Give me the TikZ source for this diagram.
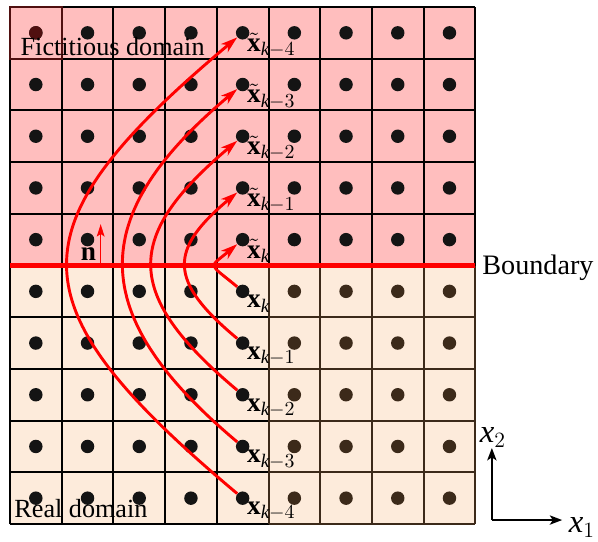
\documentclass[tikz,border=0pt]{standalone}
\usepackage{fontspec}
\setmainfont{Liberation Serif}
\usepackage{amsmath}
\usetikzlibrary{arrows.meta}

\definecolor{fictpink}{RGB}{255,190,190}
\definecolor{realpeach}{RGB}{253,235,219}
\definecolor{darkbrown}{RGB}{60,42,26}
\definecolor{darkmaroon}{RGB}{80,16,16}

\tikzset{
    pt/.style={circle, fill=black!92, inner sep=0pt, minimum size=0.26cm},
    gridline/.style={line width=1.1pt},
    mapping/.style={red, line width=1.6pt, -{Stealth[length=0.32cm, width=0.2cm, inset=0.09cm]}},
    axis/.style={line width=1pt, -{Stealth[length=0.24cm, width=0.18cm, inset=0.06cm]}},
    ptlabel/.style={inner sep=0pt, font=\fontsize{15}{17}\selectfont},
    txt/.style={inner sep=0pt, font=\fontsize{14.4}{17}\selectfont},
}

\begin{document}
\begin{tikzpicture}
    \useasboundingbox (-0.193,-0.329) rectangle (11.373,10.135);

    % Domains
    \fill[realpeach] (0,0) rectangle (9,5);
    \fill[fictpink] (0,5) rectangle (9,10);
    \draw[gridline] (0,0) grid (9,10);
    \draw[gridline, darkbrown] (5,0) grid (9,5);
    \draw[gridline, darkmaroon] (0,9) rectangle (1,10);

    % Grid points
    \foreach \i in {0,...,8}
        \foreach \j in {5,...,9}
            \node[pt] (p\i-\j) at (\i+0.5,\j+0.5) {};
    \foreach \i in {0,...,4}
        \foreach \j in {0,...,4}
            \node[pt] (p\i-\j) at (\i+0.5,\j+0.5) {};
    \foreach \i in {5,...,8}
        \foreach \j in {0,...,4}
            \node[pt, fill=darkbrown] (p\i-\j) at (\i+0.5,\j+0.5) {};
    \fill[darkmaroon] (p0-9) circle (0.13);

    % Boundary
    \coordinate (bleft) at (0,5);
    \coordinate (bright) at (9,5);
    \draw[red, line width=2.5pt] (bleft) -- (bright);
    \node[txt, anchor=base west, font=\fontsize{15.5}{18}\selectfont] (bnd) at (9.13,4.82) {Boundary};

    % Normal vector
    \coordinate (nfoot) at (1.754,5);
    \coordinate (ntip) at (1.754,5.8);
    \draw[red, line width=0.8pt, -{Stealth[length=0.24cm, width=0.15cm, inset=0.05cm]}] (nfoot) -- (ntip);
    \node[ptlabel, anchor=base] (nlbl) at (1.52,5.10) {\textbf{n}};

    % Domain names
    \node[txt, anchor=base west] (fict) at (0.2,9.07) {Fictitious domain};
    \node[txt, anchor=base west] (real) at (0.08,0.135) {Real domain};

    % Labels of real points
    \foreach \j/\s in {4/{\textit{k}}, 3/{\textit{k}-1}, 2/{\textit{k}-2}, 1/{\textit{k}-3}, 0/{\textit{k}-4}}
        \node[ptlabel, anchor=north west, xshift=0.08cm, yshift=-0.07cm] (lr\j) at (p4-\j.center)
            {$\textbf{x}_{\s}$};

    % Labels of fictitious points
    \foreach \j/\s in {5/{\textit{k}}, 6/{\textit{k}-1}, 7/{\textit{k}-2}, 8/{\textit{k}-3}, 9/{\textit{k}-4}}
        \node[ptlabel, anchor=north west, xshift=0.08cm, yshift=0.01cm] (lf\j) at (p4-\j.center)
            {$\tilde{\textbf{x}}_{\s}$};

    % Mappings
    \draw[mapping] (p4-4) .. controls +(-0.67,0.56) and +(-0.67,-0.56) .. (p4-5);
    \draw[mapping] (p4-3) .. controls +(-1.44,1.2) and +(-1.44,-1.2) .. (p4-6);
    \draw[mapping] (p4-2) .. controls +(-2.31,1.94) and +(-2.31,-1.94) .. (p4-7);
    \draw[mapping] (p4-1) .. controls +(-3.04,2.55) and +(-3.04,-2.55) .. (p4-8);
    \draw[mapping] (p4-0) .. controls +(-4.48,3.76) and +(-4.48,-3.76) .. (p4-9);

    % Axes
    \coordinate (orig) at (9.32,0.077);
    \node[inner sep=0pt, anchor=south, font=\fontsize{18}{21}\selectfont] (xtwo) at (9.34,1.47) {$\textit{x}_2$};
    \node[inner sep=0pt, anchor=base west, font=\fontsize{18}{21}\selectfont] (xone) at (10.8,-0.17) {$\textit{x}_1$};
    \draw[axis] (orig) -- (xtwo.south -| orig);
    \draw[axis, shorten >=0.12cm] (orig) -- (orig -| xone.west);
\end{tikzpicture}
\end{document}
